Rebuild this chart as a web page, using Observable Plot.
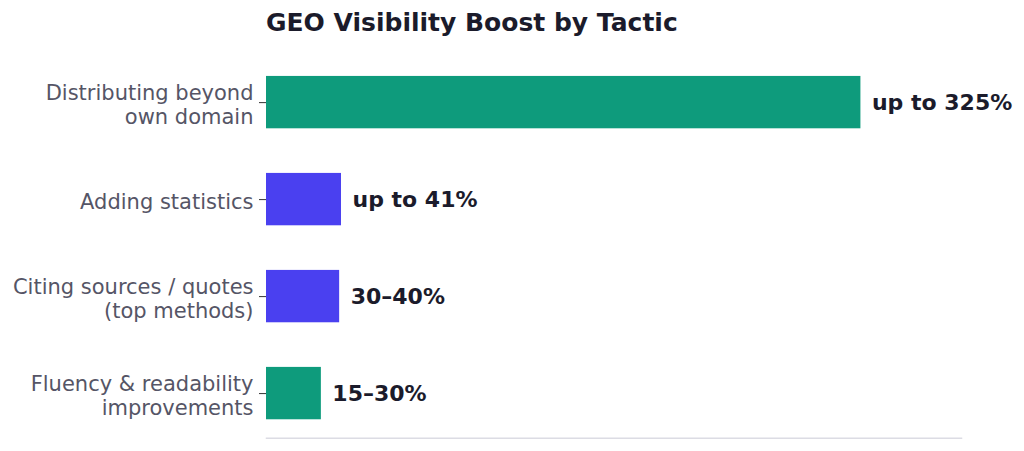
<!DOCTYPE html>
<html>
<head>
<meta charset="utf-8">
<script src="https://cdn.jsdelivr.net/npm/d3@7"></script>
<script src="https://cdn.jsdelivr.net/npm/@observablehq/plot@0.6"></script>
<style>
  html, body { margin: 0; padding: 0; background: #ffffff; }
  #wrap { width: 1024px; height: 451px; position: relative; font-family: "DejaVu Sans", sans-serif; }
  #title { height: 48px; box-sizing: border-box; padding-left: 266px; padding-top: 6px;
           font-size: 25px; font-weight: bold; color: #1b1b2b; line-height: 34px; }
</style>
</head>
<body>
<div id="wrap">
  <div id="title">GEO Visibility Boost by Tactic</div>
  <div id="chart"></div>
</div>
<script>
const tactics = [
  "Distributing beyond\nown domain",
  "Adding statistics",
  "Citing sources / quotes\n(top methods)",
  "Fluency & readability\nimprovements"
];
const values = [325, 41, 40, 30];
const valueLabels = ["up to 325%", "up to 41%", "30–40%", "15–30%"];
const groups = ["reach", "evidence", "evidence", "reach"];

const data = tactics.map((t, i) => ({tactic: t, value: values[i], label: valueLabels[i], group: groups[i]}));

const chart = Plot.plot({
  width: 1024,
  height: 403,
  marginLeft: 266,
  marginRight: 63,
  marginTop: 9.5,
  marginBottom: 13.3,
  style: {fontFamily: "DejaVu Sans, sans-serif", background: "#ffffff"},
  x: {domain: [0, 380], axis: null},
  y: {domain: tactics, paddingInner: 0.46, paddingOuter: 0.19, round: false, label: null},
  color: {domain: ["reach", "evidence"], range: ["#0e9b7c", "#4a40f0"]},
  marks: [
    Plot.frame({anchor: "bottom", stroke: "#dcdce4", strokeWidth: 1.5}),
    Plot.barX(data, {y: "tactic", x: "value", fill: "group"}),
    Plot.text(data, {y: "tactic", x: "value", text: "label", textAnchor: "start", dx: 11,
      fontSize: 22, fontWeight: "bold", fill: "#1b1b2b"}),
    Plot.axisY({tickSize: 7, stroke: "#333", label: null, text: null}),
    Plot.axisY({tickSize: 0, tickPadding: 13, fontSize: 21, lineHeight: 1.15, color: "#555566",
      dy: 2, label: null, tickFormat: d => d})
  ]
});
document.getElementById("chart").appendChild(chart);
</script>
</body>
</html>
